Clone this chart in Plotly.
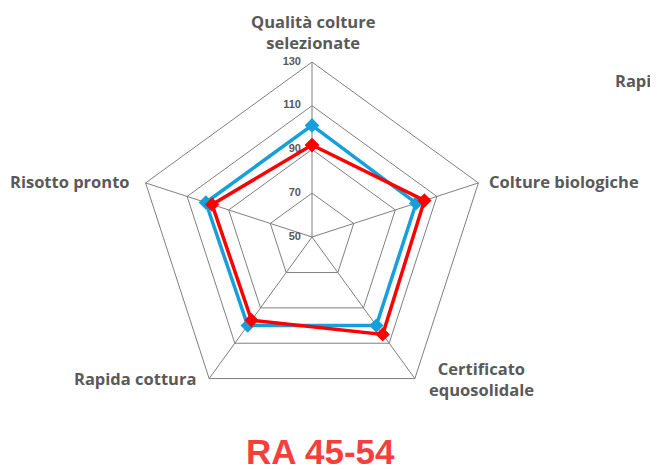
import plotly.graph_objects as go

# axis categories (clockwise from top)
categories = ["Qualità colture<br>selezionate", "Colture biologiche",
              "Certificato<br>equosolidale", "Rapida cottura", "Risotto pronto"]

# series values
blue_values = [101, 100, 100, 100, 101]
red_values = [92, 104, 105, 97, 98]

radial_ticks = [50, 70, 90, 110, 130]

GREY = "#595959"
LABEL_FONT = dict(family="Open Sans", size=16.5, color=GREY, weight="bold")

fig = go.Figure()

# close the polygon by repeating the first point
fig.add_trace(go.Scatterpolar(
    r=blue_values + blue_values[:1], theta=categories + categories[:1],
    mode="lines+markers", name="blue",
    line=dict(color="#169FDB", width=3.5),
    marker=dict(symbol="diamond", size=11, color="#169FDB")))
fig.add_trace(go.Scatterpolar(
    r=red_values + red_values[:1], theta=categories + categories[:1],
    mode="lines+markers", name="red",
    line=dict(color="#FF0000", width=3.5),
    marker=dict(symbol="diamond", size=11, color="#FF0000")))

# radial tick labels, left of the vertical axis like the original
fig.add_trace(go.Scatterpolar(
    r=radial_ticks, theta=[categories[0]] * len(radial_ticks),
    mode="markers+text", text=[str(v) for v in radial_ticks],
    textposition="middle left", hoverinfo="skip", cliponaxis=False,
    marker=dict(size=16, opacity=0),
    textfont=dict(family="Liberation Sans", size=11, color=GREY, weight="bold")))

# category labels placed by hand (plotly's own pad is too tight)
label_pos = [  # x, y, xanchor
    (0.470, 0.947, "center"),
    (0.737, 0.6255, "left"),
    (0.728, 0.197, "center"),
    (0.2923, 0.199, "right"),
    (0.1908, 0.6255, "right"),
]
annotations = [
    dict(text=cat, x=x, y=y, xref="paper", yref="paper", xanchor=xa,
         yanchor="middle", showarrow=False, font=LABEL_FONT)
    for cat, (x, y, xa) in zip(categories, label_pos)
]
annotations += [
    dict(text="RA 45-54", x=0.4815, y=0.041, xref="paper", yref="paper",
         xanchor="center", yanchor="middle", showarrow=False,
         font=dict(family="Liberation Sans", size=35, color="#F53E3E", weight="bold")),
    dict(text="Rapi", x=0.992, y=0.844, xref="paper", yref="paper",
         xanchor="right", yanchor="middle", showarrow=False, font=LABEL_FONT),
]

fig.update_layout(
    width=650, height=462,
    margin=dict(l=0, r=0, t=0, b=0),
    paper_bgcolor="white", plot_bgcolor="white",
    showlegend=False,
    polar=dict(
        domain=dict(x=[0.1985, 0.7369], y=[0.1255, 0.8831]),
        gridshape="linear",
        bgcolor="white",
        angularaxis=dict(
            direction="clockwise", rotation=90,
            linecolor="#7f7f7f", linewidth=1,
            gridcolor="#7f7f7f", gridwidth=1,
            ticks="", showline=True, showticklabels=False),
        radialaxis=dict(
            # start a hair below 50 so the "50" label at the centre is kept
            range=[49.9, 130], tickvals=radial_ticks,
            angle=90, showticklabels=False,
            showline=False, ticks="",
            gridcolor="#7f7f7f", gridwidth=1),
    ),
    annotations=annotations,
)

fig.write_html("out.html")
